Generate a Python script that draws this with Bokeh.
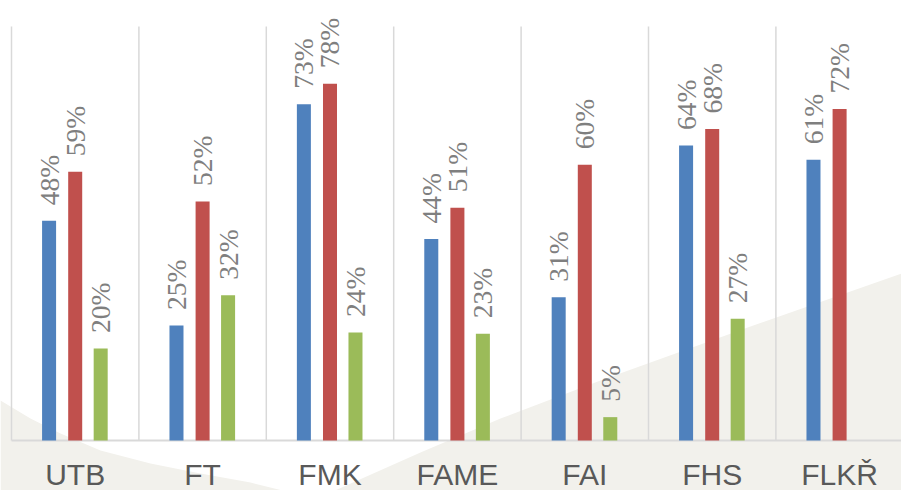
import numpy as np
from bokeh.plotting import figure
from bokeh.models import ColumnDataSource, LabelSet, Range1d
from bokeh.core.properties import value
from bokeh.embed import file_html
from bokeh.resources import INLINE

# ---- data ----
categories = ["UTB", "FT", "FMK", "FAME", "FAI", "FHS", "FLKŘ"]
blue_values = [48.0, 25.1, 73.4, 44.0, 31.3, 64.4, 61.3]
red_values = [58.7, 52.2, 77.9, 50.8, 60.2, 68.0, 72.4]
green_values = [20.1, 31.7, 23.6, 23.3, 5.1, 26.6, None]

colors = ["#4f81bd", "#c0504d", "#9bbb59"]
offsets = [-0.205, 0.0, 0.2]
series = [blue_values, red_values, green_values]

n = len(categories)
W, H = 901, 490
# layout constants (pixels)
cat_px = 127.4          # width of one category
left_px = 11            # left edge of first category
base_px = 440           # baseline position from top
unit_px = 4.58          # pixels per percent
grid_top = 90.4         # top of the category separators (percent)

x0 = -0.5 - left_px / cat_px
x1 = x0 + W / cat_px
y1 = base_px / unit_px
y0 = -(H - base_px) / unit_px

p = figure(width=W, height=H, output_backend="svg", toolbar_location=None,
           x_range=Range1d(x0, x1), y_range=Range1d(y0, y1),
           min_border=0, min_border_left=0, min_border_right=0,
           min_border_top=0, min_border_bottom=0)
p.outline_line_color = None
p.background_fill_color = "white"
p.border_fill_color = "white"
p.axis.visible = False
p.grid.visible = False

# decorative background swoosh (pixel positions converted to data space)
def px2x(px):
    return x0 + px / cat_px

def py2y(py):
    return (base_px - py) / unit_px

bg = "#f2f1ec"
left_shape = [(0, 400), (30, 418), (60, 433), (100, 450), (150, 463), (200, 473),
              (250, 482), (290, 492), (0, 492)]
right_shape = [(330, 492), (420, 452), (500, 418), (600, 380), (750, 326), (901, 273), (901, 492)]
for shape in (left_shape, right_shape):
    p.patch([px2x(a) for a, b in shape], [py2y(b) for a, b in shape],
            fill_color=bg, line_color=None)

# category separators and baseline
bounds = [i - 0.5 for i in range(n + 1)]
p.segment(x0=bounds, y0=[0] * len(bounds), x1=bounds, y1=[grid_top] * len(bounds),
          line_color="#d9d9d9", line_width=1.5)
p.segment(x0=[-0.5], y0=[0], x1=[x1], y1=[0], line_color="#d9d9d9", line_width=2)

lab_x, lab_y, lab_t = [], [], []
for vals, col, off in zip(series, colors, offsets):
    xs = [i + off for i, v in enumerate(vals) if v is not None]
    ys = [v for v in vals if v is not None]
    p.vbar(x=xs, top=ys, width=0.11, bottom=0, fill_color=col, line_color=None)
    lab_x += xs
    lab_y += ys
    lab_t += [f"{round(v)}%" for v in ys]

src = ColumnDataSource(dict(x=lab_x, y=lab_y, t=lab_t))
p.add_layout(LabelSet(source=src, x="x", y="y", text="t", angle=np.pi / 2,
                      text_align="left", text_baseline="middle", y_offset=15.5,
                      text_font="Liberation Sans", text_font_size="27.5px",
                      text_color="#7f7f7f"))

# category labels (axis)
cat_label_y = -34 / unit_px
p.text(x=list(range(n)), y=[cat_label_y] * n, text=categories,
       text_align="center", text_baseline="alphabetic",
       text_font=value("Liberation Sans"), text_font_size="30px",
       text_color="#595959")

open("out.html", "w").write(file_html(p, INLINE))
